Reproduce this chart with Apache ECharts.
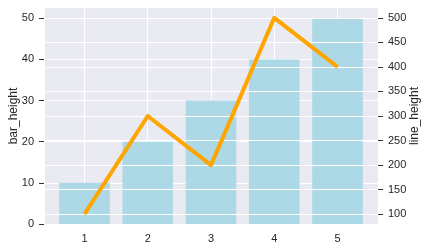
<!DOCTYPE html>
<html>
<head>
<meta charset="utf-8">
<script src="https://cdn.jsdelivr.net/npm/echarts@6/dist/echarts.min.js"></script>
<style>
html,body{margin:0;padding:0;background:#fff;}
#c{width:427px;height:251px;}
</style>
</head>
<body>
<div id="c"></div>
<script>
const categories = [1, 2, 3, 4, 5];
const barValues = [10, 20, 30, 40, 50];
const lineValues = [100, 300, 200, 500, 400];
const leftTicks = [0, 10, 20, 30, 40, 50];
const rightTicks = [100, 150, 200, 250, 300, 350, 400, 450, 500];

const font = 'Liberation Sans, Arial, sans-serif';
const txt = '#262626';

const chart = echarts.init(document.getElementById('c'), null, {renderer: 'canvas'});

function buildOption(barW) {
  return {
    animation: false,
    backgroundColor: '#ffffff',
    grid: {left: 44, right: 49, top: 8, bottom: 27, show: true, backgroundColor: '#eaeaf2', borderWidth: 0,
           containLabel: false, outerBoundsMode: 'none'},
    xAxis: {
      type: 'value', min: 0.36, max: 5.64,
      axisLine: {show: false}, axisTick: {show: false},
      splitLine: {show: true, lineStyle: {color: '#ffffff', width: 1}},
      axisLabel: {customValues: categories, color: txt, fontFamily: font, fontSize: 11, margin: 9}
    },
    yAxis: [
      {
        type: 'value', min: 0, max: 52.5, interval: 10, z: 0,
        name: 'bar_height', nameLocation: 'middle', nameRotate: 90, nameGap: 24, nameMoveOverlap: false,
        nameTextStyle: {color: txt, fontFamily: font, fontSize: 12},
        axisLine: {show: false},
        axisTick: {show: true, customValues: leftTicks, length: 5, lineStyle: {color: '#333', width: 1}},
        splitLine: {show: true, lineStyle: {color: '#ffffff', width: 1}},
        axisLabel: {customValues: leftTicks, color: txt, fontFamily: font, fontSize: 11, margin: 10}
      },
      {
        type: 'value', min: 80, max: 520, splitNumber: 9, z: 3, position: 'right',
        name: 'line_height', nameLocation: 'middle', nameRotate: 90, nameGap: 31, nameMoveOverlap: false,
        nameTextStyle: {color: txt, fontFamily: font, fontSize: 12},
        axisLine: {show: false},
        axisTick: {show: true, customValues: rightTicks, length: 5, lineStyle: {color: '#333', width: 1}},
        splitLine: {show: true, lineStyle: {color: '#ffffff', width: 1}},
        axisLabel: {customValues: rightTicks, color: txt, fontFamily: font, fontSize: 11, margin: 10}
      }
    ],
    series: [
      {
        type: 'bar', yAxisIndex: 0, z: 2, barWidth: barW,
        itemStyle: {color: '#add8e6'},
        data: categories.map((c, i) => [c, barValues[i]])
      },
      {
        type: 'line', yAxisIndex: 1, z: 5, symbol: 'none',
        lineStyle: {color: '#ffa500', width: 4, join: 'round', cap: 'butt'},
        data: categories.map((c, i) => [c, lineValues[i]])
      }
    ]
  };
}

chart.setOption(buildOption(50));
const p0 = chart.convertToPixel({xAxisIndex: 0}, 0.6);
const p1 = chart.convertToPixel({xAxisIndex: 0}, 1.4);
chart.setOption(buildOption(Math.abs(p1 - p0)));
</script>
</body>
</html>
